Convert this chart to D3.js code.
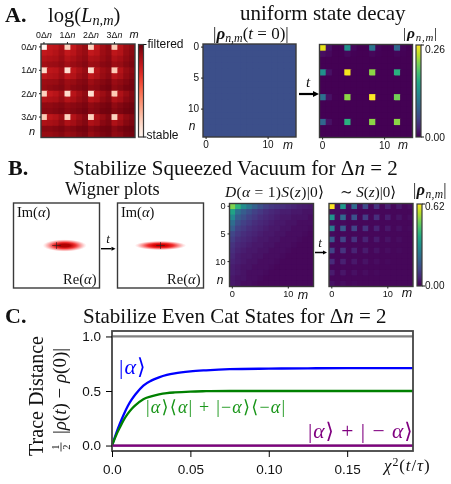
<!DOCTYPE html>
<html>
<head>
<meta charset="utf-8">
<script src="https://cdn.jsdelivr.net/npm/d3@7"></script>
<style>
  html, body { margin: 0; padding: 0; background: #fff; }
  svg { display: block; filter: blur(0.4px); }
  text { fill: #111; }
</style>
</head>
<body>
<div id="chart"></div>
<script>
// panel A, log(L) of the filter, 0 = stable, 100 = filtered
const logL = [
  [0,70,72,80,8,70,80,86,8,70,82,88,10,74,84,88],
  [70,72,76,82,70,74,82,86,70,74,84,88,72,76,86,90],
  [76,78,80,85,76,80,85,88,78,80,86,90,78,82,88,92],
  [82,84,85,88,82,85,88,91,84,85,90,92,84,86,91,94],
  [6,72,74,82,5,72,80,86,6,74,84,88,10,76,86,90],
  [72,76,78,84,72,76,84,88,72,78,86,90,74,80,88,92],
  [84,85,86,90,84,86,90,92,84,88,91,94,85,88,92,95],
  [86,88,90,92,86,90,92,94,88,90,94,96,88,91,95,96],
  [8,70,74,82,6,74,82,88,5,76,84,90,10,78,86,92],
  [76,78,80,86,76,80,86,90,76,80,88,92,78,82,90,93],
  [88,88,90,92,88,90,92,94,88,91,94,96,88,92,95,97],
  [90,90,92,94,90,92,94,96,90,92,96,97,91,94,97,98],
  [10,72,76,84,8,76,84,90,8,78,86,92,8,80,88,92],
  [78,80,82,88,78,82,88,92,78,82,90,93,78,84,91,94],
  [90,90,92,94,90,92,95,96,90,93,96,97,90,94,97,98],
  [86,86,88,91,86,88,92,94,86,90,94,96,88,90,95,96]
];

// uniform state, every element the same
const uniformRow = [.0625,.0625,.0625,.0625,.0625,.0625,.0625,.0625,.0625,.0625,.0625,.0625,.0625,.0625,.0625];
const uniformRho = [uniformRow,uniformRow,uniformRow,uniformRow,uniformRow,uniformRow,uniformRow,uniformRow,uniformRow,uniformRow,uniformRow,uniformRow,uniformRow,uniformRow,uniformRow];

const decayedRho = [
  [.25,.012,0,0,.13,.006,0,0,.10,.004,0,0,.085,.004,0],
  [.01,.006,0,0,.006,.002,0,0,.005,.002,0,0,.004,.002,0],
  [0,0,0,0,0,0,0,0,0,0,0,0,0,0,0],
  [0,0,0,0,0,0,0,0,0,0,0,0,0,0,0],
  [.13,.012,0,0,.255,0,0,0,.215,0,0,0,.165,0,0],
  [0,0,0,0,0,0,0,0,0,0,0,0,0,0,0],
  [0,0,0,0,0,0,0,0,0,0,0,0,0,0,0],
  [0,0,0,0,0,0,0,0,0,0,0,0,0,0,0],
  [.095,.012,0,0,.215,0,0,0,.26,0,0,0,.205,0,0],
  [0,0,0,0,0,0,0,0,0,0,0,0,0,0,0],
  [0,0,0,0,0,0,0,0,0,0,0,0,0,0,0],
  [0,0,0,0,0,0,0,0,0,0,0,0,0,0,0],
  [.085,.012,0,0,.165,0,0,0,.215,0,0,0,.215,0,0],
  [0,0,0,0,0,0,0,0,0,0,0,0,0,0,0],
  [0,0,0,0,0,0,0,0,0,0,0,0,0,0,0]
];

// panel B
const displacedRho = [
  [.50,.40,.30,.24,.19,.15,.12,.10,.09,.08,.07,.06,.05,.045,.04],
  [.36,.23,.18,.15,.12,.10,.08,.07,.06,.05,.05,.04,.04,.03,.03],
  [.29,.18,.15,.12,.10,.08,.07,.06,.05,.04,.04,.03,.03,.03,.02],
  [.22,.15,.12,.10,.08,.07,.06,.05,.04,.04,.03,.03,.02,.02,.02],
  [.18,.12,.10,.08,.07,.06,.05,.04,.04,.03,.03,.02,.02,.02,.015],
  [.13,.10,.08,.07,.06,.05,.04,.04,.03,.03,.02,.02,.02,.015,.01],
  [.11,.08,.07,.06,.05,.04,.04,.03,.03,.02,.02,.02,.015,.01,.01],
  [.09,.07,.06,.05,.04,.04,.03,.03,.02,.02,.02,.015,.01,.01,.01],
  [.08,.06,.05,.04,.04,.03,.03,.02,.02,.02,.015,.01,.01,.01,.01],
  [.07,.05,.04,.04,.03,.03,.02,.02,.02,.015,.01,.01,.01,.01,.01],
  [.06,.05,.04,.03,.03,.02,.02,.02,.015,.01,.01,.01,.01,.01,.01],
  [.05,.04,.03,.03,.02,.02,.02,.015,.01,.01,.01,.01,.01,.01,.01],
  [.05,.04,.03,.02,.02,.02,.015,.01,.01,.01,.01,.01,.01,.01,.01],
  [.04,.03,.03,.02,.02,.015,.01,.01,.01,.01,.01,.01,.01,.01,.01],
  [.04,.03,.02,.02,.015,.01,.01,.01,.01,.01,.01,.01,.01,.01,.01]
];

const squeezedRho = [
  [.62,.02,.33,.02,.21,.02,.14,.01,.09,.01,.055,.01,.04,.01,.02],
  [.02,.02,.02,.015,.015,.01,.01,.01,.01,.01,.01,.01,.01,.01,.01],
  [.32,.02,.21,.015,.155,.01,.11,.01,.08,.01,.05,.01,.03,.01,.02],
  [.02,.015,.015,.01,.01,.01,.01,.01,.01,.01,.01,.01,.01,.01,.01],
  [.26,.015,.17,.01,.125,.01,.09,.01,.06,.01,.04,.01,.025,.01,.015],
  [.015,.01,.01,.01,.01,.01,.01,.01,.01,.01,.01,.01,.01,.01,.01],
  [.17,.01,.125,.01,.09,.01,.06,.01,.045,.01,.03,.01,.02,.01,.01],
  [.01,.01,.01,.01,.01,.01,.01,.01,.01,.01,.01,.01,.01,.01,.01],
  [.125,.01,.09,.01,.06,.01,.045,.01,.03,.01,.02,.01,.015,.01,.01],
  [.01,.01,.01,.01,.01,.01,.01,.01,.01,.01,.01,.01,.01,.01,.01],
  [.075,.01,.055,.01,.04,.01,.03,.01,.02,.01,.015,.01,.01,.01,.01],
  [.01,.01,.01,.01,.01,.01,.01,.01,.01,.01,.01,.01,.01,.01,.01],
  [.045,.01,.035,.01,.025,.01,.02,.01,.015,.01,.01,.01,.01,.01,.01],
  [.01,.01,.01,.01,.01,.01,.01,.01,.01,.01,.01,.01,.01,.01,.01],
  [.025,.01,.02,.01,.015,.01,.01,.01,.01,.01,.01,.01,.01,.01,.01]
];

// wigner blobs, in units of alpha
const wignerCenters = [0.95, 0];
const wignerHalfWidths = [2.55, 3.0];
const wignerHalfHeights = [0.72, 0.55];

// panel C
const times = [0,.0025,.005,.0075,.01,.0125,.015,.02,.025,.03,.035,.04,.05,.06,.075,.1,.125,.15,.175,.192];
const coherent = [0,.105,.20,.285,.36,.42,.47,.55,.595,.625,.647,.662,.68,.69,.70,.705,.708,.71,.71,.71];
const mixture = [0,.09,.165,.235,.29,.335,.37,.425,.45,.468,.48,.487,.495,.498,.5,.5,.5,.5,.5,.5];
const evenCat = [0,0,0,0,0,0,0,0,0,0,0,0,0,0,0,0,0,0,0,0];
const ceiling = [1,1,1,1,1,1,1,1,1,1,1,1,1,1,1,1,1,1,1,1];
const yTicks = [0, .5, 1];
const xTicks = [0, .05, .1, .15];
const xTickLabels = ["0.0", "0.05", "0.10", "0.15"];

const serif = "'Liberation Serif','DejaVu Serif',serif";
const sans = "'Liberation Sans',Arial,sans-serif";
const frameColor = "#3a3a3a";

const width = 451, height = 484;

const svg = d3.select("#chart").append("svg")
  .attr("width", width)
  .attr("height", height);

const defs = svg.append("defs");

const viridis = d3.interpolateViridis;
const reds = d3.interpolateReds;

function label(x, y, html, size, opts) {
  opts = opts || {};
  return svg.append("text")
    .attr("x", x)
    .attr("y", y)
    .attr("font-family", opts.font || serif)
    .attr("font-size", size)
    .attr("font-weight", opts.weight || null)
    .attr("font-style", opts.style || null)
    .attr("letter-spacing", opts.spacing || null)
    .attr("text-anchor", opts.anchor || "start")
    .attr("transform", opts.rotate ? "rotate(" + opts.rotate + " " + x + " " + y + ")" : null)
    .style("fill", opts.color || null)
    .html(html);
}

function heatmap(matrix, box, color) {
  const ids = d3.range(matrix.length);
  const last = matrix.length - 1;
  const x = d3.scaleBand().domain(ids).range([box.x, box.x + box.w]);
  const y = d3.scaleBand().domain(ids).range([box.y, box.y + box.h]);

  const g = svg.append("g");
  // cells run 1px under the next one so no seams show
  g.selectAll("g.row")
    .data(matrix)
    .enter().append("g")
    .attr("class", "row")
    .selectAll("rect")
    .data((row, i) => row.map((v, j) => ({ i: i, j: j, v: v })))
    .enter().append("rect")
    .attr("x", d => x(d.j))
    .attr("y", d => y(d.i))
    .attr("width", d => x.bandwidth() + (d.j < last ? 1 : 0))
    .attr("height", d => y.bandwidth() + (d.i < last ? 1 : 0))
    .attr("fill", d => color(d.v));

  svg.append("rect")
    .attr("x", box.x).attr("y", box.y)
    .attr("width", box.w).attr("height", box.h)
    .attr("fill", "none")
    .attr("stroke", frameColor)
    .attr("stroke-width", 1.4);

  return { x: x, y: y };
}

function bandTicks(scale, vals, side, at, fmt, size, pad) {
  const axis = (side === "left" ? d3.axisLeft(scale) : side === "top" ? d3.axisTop(scale) : d3.axisBottom(scale))
    .tickValues(vals).tickSize(2).tickPadding(pad === undefined ? 2 : pad).tickFormat(fmt);
  const g = svg.append("g")
    .attr("transform", side === "left" ? "translate(" + at + ",0)" : "translate(0," + at + ")")
    .call(axis);
  g.select(".domain").remove();
  g.selectAll("line").attr("stroke", "#222");
  g.selectAll("text")
    .attr("font-family", sans)
    .attr("font-size", size)
    .html(d => fmt(d));
  return g;
}

function colorbar(id, box, interp) {
  const grad = defs.append("linearGradient")
    .attr("id", id)
    .attr("x1", 0).attr("x2", 0).attr("y1", 1).attr("y2", 0);
  d3.range(0, 1.01, 0.1).forEach(t => {
    grad.append("stop").attr("offset", t).attr("stop-color", interp(t));
  });
  svg.append("rect")
    .attr("x", box.x).attr("y", box.y)
    .attr("width", box.w).attr("height", box.h)
    .attr("fill", "url(#" + id + ")")
    .attr("stroke", frameColor)
    .attr("stroke-width", 1.2);
  // tick marks top and bottom
  [box.y, box.y + box.h].forEach(yy => {
    svg.append("line")
      .attr("x1", box.x + box.w).attr("x2", box.x + box.w + 3)
      .attr("y1", yy).attr("y2", yy)
      .attr("stroke", "#111").attr("stroke-width", 1);
  });
}

function arrow(x1, x2, y, sw, head) {
  svg.append("line")
    .attr("x1", x1).attr("x2", x2 - head).attr("y1", y).attr("y2", y)
    .attr("stroke", "#000").attr("stroke-width", sw);
  svg.append("path")
    .attr("d", "M" + x2 + "," + y + "L" + (x2 - head) + "," + (y - head * 0.5) + "L" + (x2 - head) + "," + (y + head * 0.5) + "Z")
    .attr("fill", "#000");
}

const it = s => "<tspan font-style='italic'>" + s + "</tspan>";
// subscript, then whatever follows it back on the baseline
const sub = (s, rest) => "<tspan dy='3' font-size='70%' font-style='italic'>" + s + "</tspan><tspan dy='-3'>" + rest + "</tspan>";
const rhoBold = "<tspan font-style='italic' font-weight='bold'>\u03c1</tspan>";

// ---- A ----
label(5, 22, "A.", 22, { weight: "bold" });
label(48, 22, "log(" + it("L") + sub("n,m", ")"), 20.5);
label(240, 19.5, "uniform state decay", 21);

const colorA = d3.scaleSequentialPow(reds).exponent(.7).domain([0, 100]);
const mapA = heatmap(logL, { x: 41, y: 44, w: 94, h: 93.5 }, colorA);
const deltaN = d => d / 4 + "\u0394<tspan font-style='italic'>n</tspan>";
bandTicks(mapA.x, [0, 4, 8, 12], "top", 44, deltaN, 8.8, 4);
bandTicks(mapA.y, [0, 4, 8, 12], "left", 41, deltaN, 8.8, 2);
label(134, 38, "m", 11, { font: sans, style: "italic", anchor: "middle" });
label(32, 135, "n", 11, { font: sans, style: "italic", anchor: "middle" });

colorbar("cbA", { x: 138.5, y: 44.5, w: 5, h: 92.5 }, reds);
label(147.5, 48, "filtered", 12, { font: sans });
label(146.5, 139, "stable", 12, { font: sans });

const colorUniform = d3.scaleSequential(viridis).domain([0, 0.26]);
const mapU = heatmap(uniformRho, { x: 203, y: 44, w: 93, h: 93 }, colorUniform);
const plainTick = d => "" + d;
bandTicks(mapU.y, [0, 5, 10], "left", 203, plainTick, 10);
bandTicks(mapU.x, [0, 10], "bottom", 137, plainTick, 10);
label(213, 39, "|" + rhoBold + sub("n,m", "(" + it("t") + " = 0)|"), 17);
label(192, 130, "n", 12, { font: sans, style: "italic", anchor: "middle" });
label(288, 149, "m", 12, { font: sans, style: "italic", anchor: "middle" });

const mapD = heatmap(decayedRho, { x: 319.5, y: 44.5, w: 93, h: 93 }, colorUniform);
bandTicks(mapD.x, [0, 10], "bottom", 137.5, plainTick, 10);
label(403, 149, "m", 12, { font: sans, style: "italic", anchor: "middle" });
label(403, 38, "|" + rhoBold + sub("n,m", "|"), 15.5, { spacing: .8 });
colorbar("cbD", { x: 416, y: 45, w: 5, h: 92 }, viridis);
label(425, 53, "0.26", 10.3, { font: sans });
label(425, 140.5, "0.00", 10.3, { font: sans });

arrow(299, 319, 94, 2.2, 6);
label(308, 87, "t", 15, { style: "italic", anchor: "middle" });

// ---- B ----
label(8, 175, "B.", 22, { weight: "bold" });
label(73, 175, "Stabilize Squeezed Vacuum for \u0394" + it("n") + " = 2", 21);
label(65, 195, "Wigner plots", 18.4);

const wignerBoxes = [{ x: 13.5, y: 203, w: 86, h: 85 }, { x: 117.5, y: 203, w: 86, h: 85 }];
const wignerCore = ["#b00000", "#d40000"];
wignerBoxes.forEach((b, k) => {
  const ax = d3.scaleLinear().domain([-5, 5]).range([b.x, b.x + b.w]);
  const ay = d3.scaleLinear().domain([-5, 5]).range([b.y + b.h, b.y]);
  const grad = defs.append("radialGradient").attr("id", "wig" + k);
  [[0, wignerCore[k]], [.25, wignerCore[k]], [.5, "#f03030"], [.72, "#fa9a9a"], [.9, "#fee4e4"], [1, "#ffffff"]].forEach(s => {
    grad.append("stop").attr("offset", s[0]).attr("stop-color", s[1]);
  });
  svg.append("rect")
    .attr("x", b.x).attr("y", b.y).attr("width", b.w).attr("height", b.h)
    .attr("fill", "#fff").attr("stroke", "#3a3a3a").attr("stroke-width", 1.4);
  svg.append("ellipse")
    .attr("cx", ax(wignerCenters[k]))
    .attr("cy", ay(0))
    .attr("rx", ax(wignerHalfWidths[k]) - ax(0))
    .attr("ry", ay(0) - ay(wignerHalfHeights[k]))
    .attr("fill", "url(#wig" + k + ")");
  // cross at the origin
  svg.append("line").attr("x1", ax(-.5)).attr("x2", ax(.5)).attr("y1", ay(0)).attr("y2", ay(0)).attr("stroke", "#222").attr("stroke-width", .6);
  svg.append("line").attr("x1", ax(0)).attr("x2", ax(0)).attr("y1", ay(.4)).attr("y2", ay(-.4)).attr("stroke", "#222").attr("stroke-width", .6);
  label(b.x + 3.5, 217, "Im(" + it("\u03b1") + ")", 14.5);
  label(b.x + b.w - 3, 284, "Re(" + it("\u03b1") + ")", 14.5, { anchor: "end" });
});
arrow(101, 115.5, 248.7, 1.4, 4);
label(108, 243, "t", 13, { style: "italic", anchor: "middle" });

const colorB = d3.scaleSequential(viridis).domain([0, 0.62]);
const mapB1 = heatmap(displacedRho, { x: 229.5, y: 203.5, w: 84, h: 83 }, colorB);
bandTicks(mapB1.y, [0, 5, 10], "left", 229.5, plainTick, 9.2);
bandTicks(mapB1.x, [0, 10], "bottom", 286.5, plainTick, 9.2);
label(220, 284, "n", 12, { font: sans, style: "italic", anchor: "middle" });
label(303, 299, "m", 12.5, { font: sans, style: "italic", anchor: "middle" });
label(225, 197, it("D") + "(" + it("\u03b1") + " = 1)" + it("S") + "(" + it("z") + ")|0\u27e9", 15.5, { spacing: .3 });

const mapB2 = heatmap(squeezedRho, { x: 329, y: 203.5, w: 84, h: 83 }, colorB);
bandTicks(mapB2.x, [0, 10], "bottom", 286.5, plainTick, 9.2);
label(407, 297, "m", 12.5, { font: sans, style: "italic", anchor: "middle" });
label(340, 197, "\u223c " + it("S") + "(" + it("z") + ")|0\u27e9", 15);
label(413, 195, "|" + rhoBold + sub("n,m", "|"), 16.5, { spacing: .3 });
colorbar("cbB", { x: 417, y: 204, w: 5, h: 82 }, viridis);
label(425, 209.5, "0.62", 10, { font: sans });
label(425, 289, "0.00", 10, { font: sans });

arrow(315, 327, 252.5, 1.5, 4);
label(320, 247, "t", 13, { style: "italic", anchor: "middle" });

// ---- C ----
label(5, 323, "C.", 22, { weight: "bold" });
label(83, 323, "Stabilize Even Cat States for \u0394" + it("n") + " = 2", 21);

const x = d3.scaleLinear().domain([0, .192]).range([112, 413]);
const y = d3.scaleLinear().domain([-.05, 1.05]).range([451, 331]);

const line = d3.line().x((d, i) => x(times[i])).y(d => y(d)).curve(d3.curveMonotoneX);
[[ceiling, "#808080"], [evenCat, "#808080"], [coherent, "#0000ff"], [mixture, "#008000"], [evenCat, "#800080"]].forEach(s => {
  svg.append("path")
    .datum(s[0])
    .attr("d", line)
    .attr("fill", "none")
    .attr("stroke", s[1])
    .attr("stroke-width", 2.3);
});

svg.append("rect")
  .attr("x", 112).attr("y", 331).attr("width", 301).attr("height", 120)
  .attr("fill", "none").attr("stroke", "#444").attr("stroke-width", 1.8);

const yAxis = svg.append("g")
  .attr("transform", "translate(112,0)")
  .call(d3.axisLeft(y).tickValues(yTicks).tickSize(6).tickPadding(5).tickFormat(d3.format(".1f")));
yAxis.select(".domain").remove();
yAxis.selectAll("text").attr("font-family", sans).attr("font-size", 13.5);
const xAxis = svg.append("g")
  .attr("transform", "translate(0,451)")
  .call(d3.axisBottom(x).tickValues(xTicks).tickSize(6).tickPadding(7).tickFormat((d, i) => xTickLabels[i]));
xAxis.select(".domain").remove();
xAxis.selectAll("text").attr("font-family", sans).attr("font-size", 13.5);

label(43, 396, "Trace Distance", 20, { rotate: -90, anchor: "middle" });
label(66, 391, "|" + it("\u03c1") + "(" + it("t") + ") \u2212 " + it("\u03c1") + "(0)|", 19, { rotate: -90, anchor: "middle" });
// the 1/2 in front, stacked
label(58.5, 447, "1", 10.5, { rotate: -90, anchor: "middle" });
label(70, 447, "2", 10.5, { rotate: -90, anchor: "middle" });
svg.append("line").attr("x1", 61).attr("x2", 61).attr("y1", 442.5).attr("y2", 451.5).attr("stroke", "#111").attr("stroke-width", .8);

label(119, 374, "|" + it("\u03b1") + "\u27e9", 22, { color: "#0000ff", spacing: 1 });
label(146, 413, "|" + it("\u03b1") + "\u27e9\u27e8" + it("\u03b1") + "| + |\u2212" + it("\u03b1") + "\u27e9\u27e8\u2212" + it("\u03b1") + "|", 18, { color: "#1a961a", spacing: 1.2 });
label(308, 438, "|" + it("\u03b1") + "\u27e9 + | \u2212 " + it("\u03b1") + "\u27e9", 21.5, { color: "#800080", spacing: 1 });
label(384, 471, it("\u03c7") + "<tspan dy='-5' font-size='70%'>2</tspan><tspan dy='5'>(</tspan>" + it("t") + "/" + it("\u03c4") + ")", 17, { spacing: .9 });
</script>
</body>
</html>
